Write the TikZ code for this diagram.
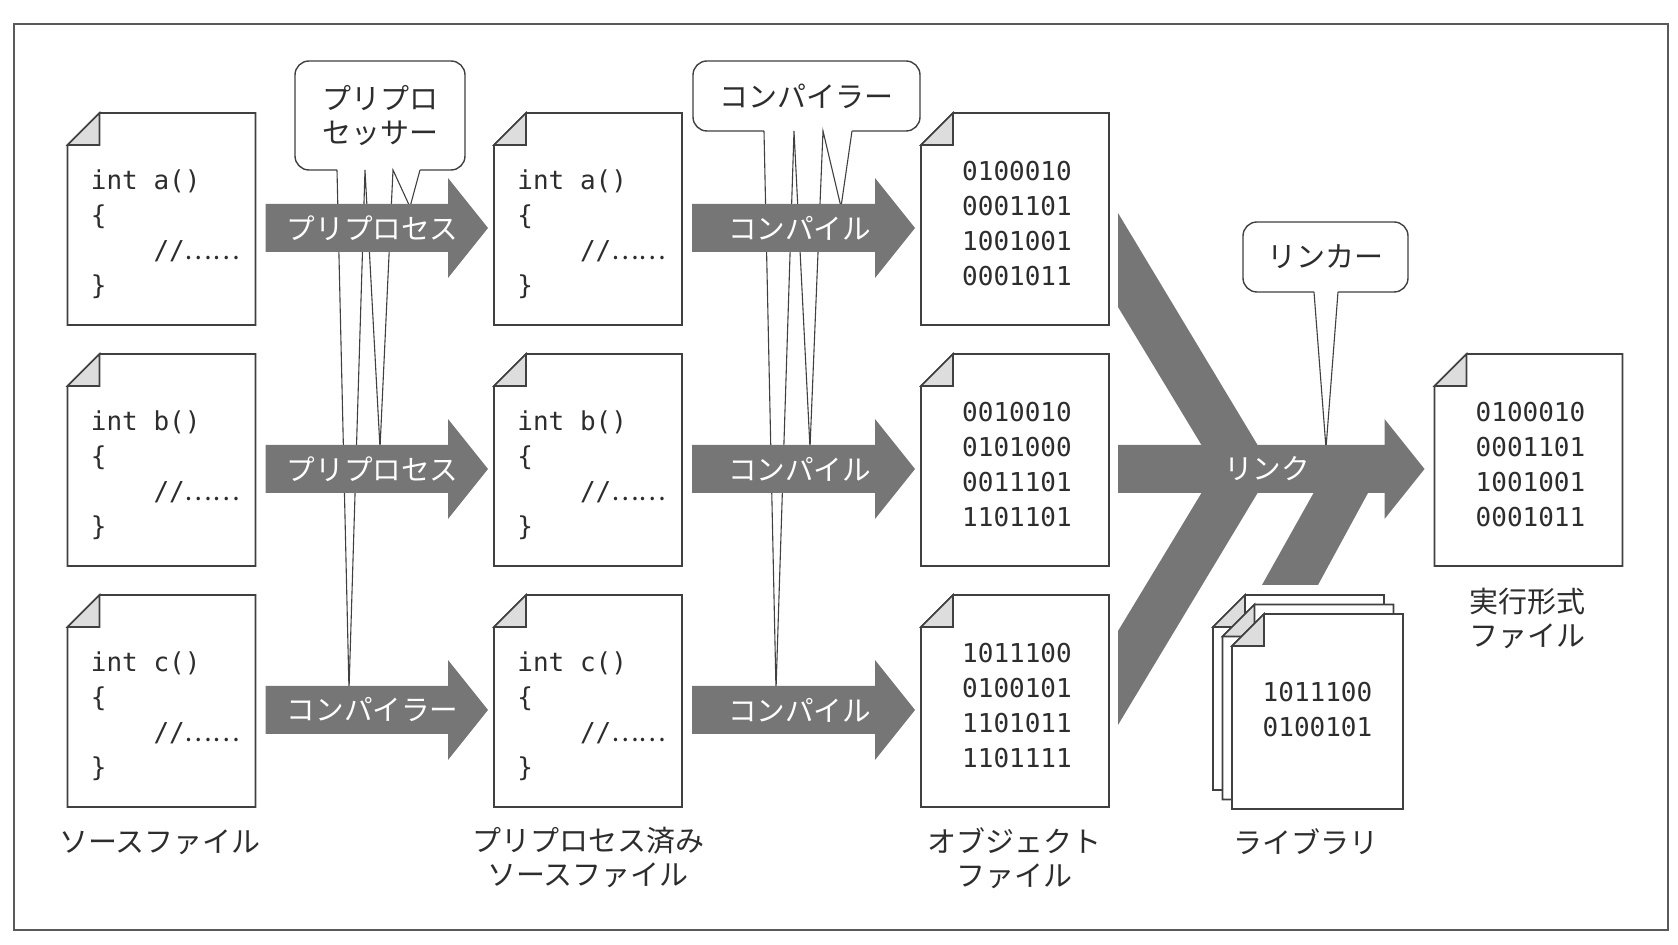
\documentclass[tikz,border=0pt]{standalone}
\usepackage{fontspec}
\setmainfont{Noto Sans CJK JP}
\setmonofont{DejaVu Sans Mono}
\newfontfamily\cjk{Noto Sans CJK JP}
\usetikzlibrary{calc}
\definecolor{arrowgray}{RGB}{118,118,118}
\definecolor{linegray}{RGB}{64,64,64}
\definecolor{foldgray}{RGB}{221,221,221}
\definecolor{txtgray}{RGB}{45,45,45}
\definecolor{framegray}{RGB}{90,90,90}
\tikzset{
  docnode/.style={minimum width=94pt, minimum height=106pt, inner sep=0pt, outer sep=0pt},
  libnode/.style={minimum width=85.5pt, minimum height=97.5pt, inner sep=0pt, outer sep=0pt},
  docline/.style={draw=linegray, line width=0.8pt, line join=miter},
  codetext/.style={font=\ttfamily\fontsize{13pt}{17.5pt}\selectfont, text=txtgray, align=left, inner sep=0pt, anchor=west},
  bintext/.style={font=\ttfamily\fontsize{13pt}{17.5pt}\selectfont, text=txtgray, align=center, inner sep=0pt},
  arrowtext/.style={font=\fontsize{14.3pt}{17pt}\selectfont, text=white, inner sep=0pt},
  lbl/.style={font=\fontsize{14.5pt}{17pt}\selectfont, text=txtgray, align=center, inner sep=0pt},
  bubble/.style={draw=linegray, fill=white, line width=0.7pt, rounded corners=7pt, inner sep=0pt, font=\fontsize{14.5pt}{17pt}\selectfont, text=txtgray, align=center},
  tailline/.style={draw=linegray, line width=0.55pt, line join=miter},
  framebox/.style={draw=framegray, line width=1pt},
}
\newcommand\docoutline[1]{%
  \filldraw[docline, fill=white] ($(#1.north west)+(16pt,0pt)$) -- (#1.north east) -- (#1.south east) -- (#1.south west) -- ($(#1.north west)+(0pt,-16pt)$) -- cycle;
  \filldraw[docline, fill=foldgray] ($(#1.north west)+(16pt,0pt)$) -- ($(#1.north west)+(16pt,-16pt)$) -- ($(#1.north west)+(0pt,-16pt)$) -- cycle;
}
\newcommand\blockarrow[6]{%
  \fill[arrowgray] let \p1=($(#1.east)+(#3,-4.5pt)$), \p2=($(#2.west)+(-#4,-4.5pt)$) in
    (\x1,\y1+12pt) -- (\x2-20pt,\y1+12pt) -- (\x2-20pt,\y1+25pt) -- (\x2,\y1) -- (\x2-20pt,\y1-25pt) -- (\x2-20pt,\y1-12pt) -- (\x1,\y1-12pt) -- cycle
    node[arrowtext] (#5) at ({0.5*\x1+0.5*\x2-2pt},\y1) {#6};
}
\begin{document}
\begin{tikzpicture}[x=0.5pt,y=-0.5pt]
\useasboundingbox (0,0) rectangle (1678,945);
\draw[framebox] (14,24) rectangle (1668,930);

% callout bodies
\node[bubble, minimum width=85pt, minimum height=54.5pt] (bpre) at (380,115.5) {プリプロ\\セッサー};
\node[bubble, minimum width=113.5pt, minimum height=35pt] (bcomp) at (806.5,96) {コンパイラー};
\node[bubble, minimum width=82.5pt, minimum height=35pt] (blink) at (1325.5,257) {リンカー};

% callout tails
\fill[white] (337,165) -- (337,170) -- (349,690) -- (365,170) -- (380,448) -- (393,170) -- (410,207) -- (420,170) -- (420,165) -- cycle;
\draw[tailline] (337,170) -- (349,690) -- (365,170) -- (380,448) -- (393,170) -- (410,207) -- (420,170);
\fill[white] (764,126) -- (764,131) -- (776,690) -- (794,131) -- (810,448) -- (823,131) -- (841,207) -- (852,131) -- (852,126) -- cycle;
\draw[tailline] (764,131) -- (776,690) -- (794,131) -- (810,448) -- (823,131) -- (841,207) -- (852,131);
\fill[white] (1314,287) -- (1314,292) -- (1326,448) -- (1338,292) -- (1338,287) -- cycle;
\draw[tailline] (1314,292) -- (1326,448) -- (1338,292);

% documents
\node[docnode] (s1) at (161.5,219) {};
\node[docnode] (s2) at (161.5,460) {};
\node[docnode] (s3) at (161.5,701) {};
\node[docnode] (p1) at (588,219) {};
\node[docnode] (p2) at (588,460) {};
\node[docnode] (p3) at (588,701) {};
\node[docnode] (o1) at (1015,219) {};
\node[docnode] (o2) at (1015,460) {};
\node[docnode] (o3) at (1015,701) {};
\node[docnode] (ex) at (1528.5,460) {};
\node[libnode] (lib3) at (1298.5,692.5) {};
\node[libnode] (lib2) at (1308,702) {};
\node[libnode] (lib1) at (1317.5,711.5) {};
\foreach \n in {s1,s2,s3,p1,p2,p3,o1,o2,o3,ex,lib3,lib2,lib1} {\docoutline{\n}}

% code texts
\node[codetext] (cs1) at ($(s1.north west)+(11.5pt,-60.75pt)$) {int a()\\\{\\\phantom{intx}//{\cjk ……}\\\}};
\node[codetext] (cs2) at ($(s2.north west)+(11.5pt,-60.75pt)$) {int b()\\\{\\\phantom{intx}//{\cjk ……}\\\}};
\node[codetext] (cs3) at ($(s3.north west)+(11.5pt,-60.75pt)$) {int c()\\\{\\\phantom{intx}//{\cjk ……}\\\}};
\node[codetext] (cp1) at ($(p1.north west)+(11.5pt,-60.75pt)$) {int a()\\\{\\\phantom{intx}//{\cjk ……}\\\}};
\node[codetext] (cp2) at ($(p2.north west)+(11.5pt,-60.75pt)$) {int b()\\\{\\\phantom{intx}//{\cjk ……}\\\}};
\node[codetext] (cp3) at ($(p3.north west)+(11.5pt,-60.75pt)$) {int c()\\\{\\\phantom{intx}//{\cjk ……}\\\}};

% binary texts
\node[bintext] (bo1) at ($(o1.north)+(1pt,-55.5pt)$) {0100010\\0001101\\1001001\\0001011};
\node[bintext] (bo2) at ($(o2.north)+(1pt,-55.5pt)$) {0010010\\0101000\\0011101\\1101101};
\node[bintext] (bo3) at ($(o3.north)+(1pt,-55.5pt)$) {1011100\\0100101\\1101011\\1101111};
\node[bintext] (bex) at ($(ex.north)+(1pt,-55.5pt)$) {0100010\\0001101\\1001001\\0001011};
\node[bintext] (blib) at ($(lib1.north)+(0pt,-47.75pt)$) {1011100\\0100101};

% link bands
\fill[arrowgray] (1118,213) -- (1272,469) -- (1216,469) -- (1118,307) -- cycle;
\fill[arrowgray] (1118,725) -- (1272,469) -- (1216,469) -- (1118,631) -- cycle;
\fill[arrowgray] (1262,585) -- (1318,585) -- (1381,469) -- (1327,469) -- cycle;

% block arrows
\blockarrow{s1}{p1}{5pt}{3pt}{a1}{プリプロセス}
\blockarrow{s2}{p2}{5pt}{3pt}{a2}{プリプロセス}
\blockarrow{s3}{p3}{5pt}{3pt}{a3}{コンパイラー}
\blockarrow{p1}{o1}{5pt}{3pt}{a4}{コンパイル}
\blockarrow{p2}{o2}{5pt}{3pt}{a5}{コンパイル}
\blockarrow{p3}{o3}{5pt}{3pt}{a6}{コンパイル}
\blockarrow{o2}{ex}{4.5pt}{5pt}{a7}{リンク}

% labels
\node[lbl] (ls) at (160,842) {ソースファイル};
\node[lbl] (lp) at (588,857) {プリプロセス済み\\ソースファイル};
\node[lbl] (lo) at (1014,858) {オブジェクト\\ファイル};
\node[lbl] (ll) at (1306,842) {ライブラリ};
\node[lbl] (le) at (1527,618) {実行形式\\ファイル};
\end{tikzpicture}
\end{document}
